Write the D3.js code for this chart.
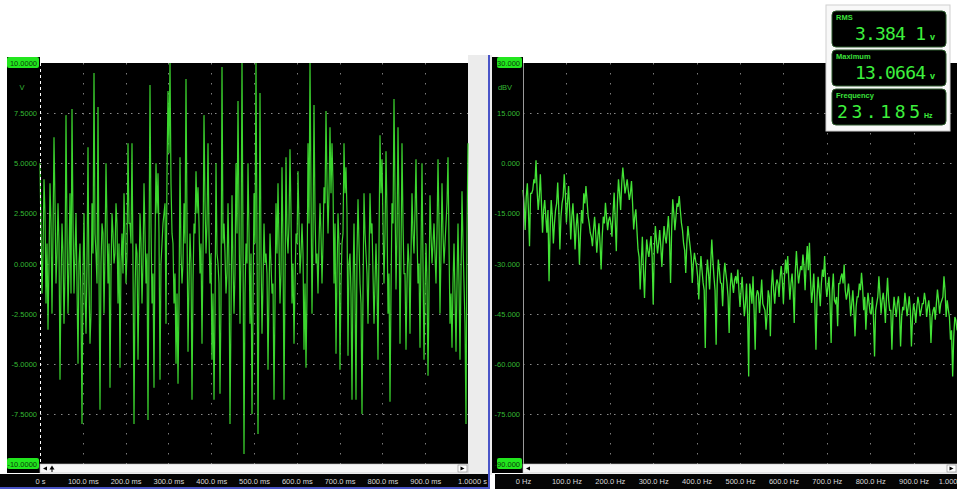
<!DOCTYPE html>
<html>
<head>
<meta charset="utf-8">
<script src="https://cdn.jsdelivr.net/npm/d3@7"></script>
<style>
  body { margin: 0; background: #fff; }
  svg { display: block; font-family: "Liberation Sans", Arial, sans-serif; }
</style>
</head>
<body>
<svg id="chart" width="957" height="489"></svg>
<script>
// time domain trace (volts), evenly spaced over 0..1 s
var timeValues = [
  5.0,1.5, -1.5,0.5, 4.2,2.5, -2.0,1.0, -3.3,0.0, 4.0,2.0, -2.5,1.5, 6.3,3.0, -1.0,0.5, 3.0,1.0,
  -5.8,-1.0, 2.0,0.5, -3.0,-0.5, 7.4,1.5, -2.5,0.0, 3.5,-1.5, 7.7,2.0, -1.5,0.5, 2.5,-1.0, -5.0,0.0,
  1.0,-2.0, -8.0,-0.5, 2.5,-1.5, -3.5,0.0, 5.8,-1.0, -4.0,-2.5, 3.0,0.5, 9.5,1.5, 0.5,-1.0, 7.8,-0.5,
  -7.3,0.0, 2.0,1.5, -2.5,0.5, 5.0,2.0, -1.0,1.0, -6.2,-0.5, 2.5,1.5, 0.0,0.5, 3.0,2.0, -2.0,1.0,
  -5.2,0.0, 1.5,-0.5, 3.5,1.5, -1.0,0.5, 6.0,2.0, 2.0,1.0, 6.0,0.0, -8.0,-1.5, 1.0,0.5, -4.8,-1.0,
  2.5,1.0, -2.0,0.0, 4.0,1.5, -1.0,0.5, -7.8,0.5, 8.9,2.0, -2.0,-0.5, -6.2,1.0, 5.0,2.5, 4.5,1.5,
  -5.8,0.0, 1.0,2.0, 2.5,3.0, -3.0,4.5, 8.6,5.5, 10.0,4.0, 1.5,1.0, -2.0,-0.5, -5.0,-1.5, -6.0,-2.0,
  5.3,0.5, -1.0,0.0, 3.0,1.0, 9.2,2.0, -4.4,-1.0, 1.5,0.0, -6.8,-1.0, 2.0,1.5, 4.6,2.5, 3.8,2.0,
  -0.5,1.0, -4.0,0.5, 7.4,3.0, 0.5,2.0, 6.0,1.5, -1.0,0.5, -4.8,-1.5, -6.8,-2.5, 5.0,0.5, 0.0,-1.0,
  -6.5,-2.0, 9.8,1.0, 2.0,0.5, -1.5,-0.5, 3.0,0.0, -8.0,-2.5, 3.4,0.0, -2.5,-0.5, 5.0,1.5, 8.1,2.5,
  -3.0,0.5, 10.0,1.0, -9.5,-1.5, 1.0,0.0, 5.0,1.5, -3.0,0.5, -7.5,-2.0, 3.5,1.0, 10.0,1.0, -8.5,-1.0,
  8.5,0.5, -3.5,-1.0, 2.0,0.0, 0.5,-0.5, -5.3,-1.5, 1.5,0.0, -1.5,-1.0, -6.8,-2.0, 3.0,0.5, 4.0,1.0,
  -2.0,-0.5, 4.8,1.0, -6.8,-1.0, 5.3,1.5, 0.5,2.0, 5.7,2.5, -2.0,0.0, -4.0,-1.0, 1.5,1.0, 4.6,2.0,
  -0.5,0.5, 2.0,0.5, -4.3,-1.0, -5.2,-1.5, 6.0,2.0, 10.0,3.5, -2.5,1.5, 7.9,2.5, 0.0,0.5, -1.5,1.0,
  3.0,1.5, -1.0,1.0, 3.8,3.0, 7.6,4.0, 1.5,3.5, 6.8,3.5, 6.0,4.0, -1.0,2.0, -4.5,-0.5, 2.5,1.0,
  -5.3,-1.0, 1.0,1.5, 6.0,3.5, 4.8,2.5, -4.6,0.0, 0.5,-1.5, -6.8,-1.0, 2.0,-1.5, -6.8,0.5, 3.2,1.0,
  -1.0,-2.0, -7.5,-1.5, 3.5,1.5, 0.5,-0.5, -3.0,0.0, 3.5,1.5, 2.0,-0.5, -3.0,-1.0, 1.0,-1.0, -4.8,1.0,
  6.4,3.5, 5.2,2.0, -1.0,1.5, 5.6,2.5, -2.5,-0.5, -6.9,-1.5, 3.0,2.0, 8.2,3.5, -1.3,1.5, 6.8,2.5,
  -4.0,0.5, 6.0,2.0, -0.5,-0.5, -4.3,-1.0, 1.0,0.0, -3.5,0.5, 3.5,1.5, 0.5,2.5, 5.2,1.5, -1.0,0.0,
  -4.2,0.5, 5.0,0.0, -4.8,-1.5, 1.0,-1.0, -5.6,-1.5, 3.4,1.5, 0.0,1.0, 2.0,0.5, -1.0,1.5, 5.2,2.0,
  -2.5,0.5, 4.0,1.5, 0.0,1.0, 2.0,3.0, 5.3,1.0, -3.0,-1.5, -4.2,-1.0, 1.0,-1.5, -4.4,-1.0, 2.0,-1.0,
  -4.8,-0.5, 3.6,1.0, -1.0,-3.0, -8.0,1.5, 6.0
];
// spectrum (dBV), evenly spaced over 0..1000 Hz
var spectrumValues = [
  -8,-12, -20,-10, -6,-14, -24.8,-9, -9,-8, -4.8,-6, 0.9,-8, -14,-10, -3.3,-12, -20.8,-14,
  -11,-16, -20.8,-14, -35.3,-20, -11,-16, -24,-18, -14,-12, -5.8,-14, -25.8,-16, -12,-10, -3.3,-9,
  -17.8,-12, -6.8,-14, -22.8,-16, -12,-18, -25.8,-19, -15,-20, -30.3,-21, -14,-18, -9,-12, -6.8,-11,
  -15.8,-18, -20.8,-22, -24.8,-20, -16,-21, -26.8,-22, -18,-24, -31.8,-22, -16,-18, -11.8,-16, -20,-17,
  -16,-18, -22,-15, -8.8,-17, -26.3,-12, -4.8,-9, -14,-6, -1.3,-5, -9,-7, -4.8,-8, -11,-9,
  -5.3,-12, -19.8,-16, -13.8,-20, -25.8,-28, -37.8,-30, -22,-32, -40.3,-30, -22.8,-26, -28,-25, -21.8,-28,
  -42.3,-26, -18.8,-23, -27,-24, -20,-25, -31,-24, -18.8,-22, -24,-20, -15.8,-22, -35.8,-20, -10.8,-15,
  -20,-16, -12,-13, -9.8,-14, -17.8,-20, -24,-26, -32.8,-24, -18.8,-22, -24.8,-28, -35.8,-30, -26.8,-29,
  -30.8,-34, -40.8,-33, -27.8,-32, -35.8,-38, -55.3,-34, -28.8,-33, -37.8,-30, -22.8,-29, -34,-38, -54.3,-36,
  -28.8,-32, -35.8,-36, -42.8,-34, -29.8,-33, -35.8,-40, -50.8,-37, -32.8,-36, -38.8,-35, -33.8,-36,
  -31.8,-38, -43,-38, -34,-40, -45.8,-42, -36,-45, -63.8,-36, -38,-42, -33.8,-44, -55.8,-40, -38,-39,
  -44.8,-40, -34.8,-42, -43,-44, -49.8,-45, -38,-40, -51.8,-37, -31.8,-38, -42,-37, -34.8,-36, -40,-34, -30.8,-35,
  -42,-34, -28.8,-33, -27.8,-35, -40.8,-36, -33,-38, -47.8,-32, -26.3,-32, -36,-33, -30.8,-32, -27.3,-31,
  -38,-30, -24.8,-32, -23.8,-35, -41.8,-38, -33,-42,
  -55.8,-40, -34,-38, -42.8,-36, -31.8,-34, -27.8,-36, -40,-37, -34,-42, -53.8,-38, -33,-41, -41.8,-40,
  -48.8,-36, -36,-34, -33,-36, -30.3,-38, -40.8,-39,
  -36,-40, -45.8,-42, -38,-44, -51.8,-43, -40,-40, -36,-38, -32.8,-37, -44,-40, -49.8,-43, -38.8,-42,
  -44.8,-45, -40,-46, -57.8,-44, -42,-40, -33.8,-39, -45,-41, -38.8,-42, -47.8,-40, -34.3,-41, -44,-44,
  -55.8,-45, -40,-43, -46,-42, -39.8,-44, -54.8,-46, -43,-44, -38.8,-42, -45.8,-43, -39.8,-44, -54.8,-46,
  -42,-44, -47.8,-43, -40,-42, -45.8,-44, -42,-42, -38.8,-41, -46,-43, -41,-45, -53.8,-46, -44,-43,
  -46.8,-42, -37.8,-41, -45,-42, -41,-40, -33.8,-38, -46,-41, -43.8,-46, -52.8,-50, -63.8,-52, -46,-47,
  -50
];

var voltTicks = [10, 7.5, 5, 2.5, 0, -2.5, -5, -7.5, -10];
var voltLabels = ["10.0000", "7.5000", "5.0000", "2.5000", "0.0000", "-2.5000", "-5.0000", "-7.5000", "-10.0000"];
var timeTicks = [0, 100, 200, 300, 400, 500, 600, 700, 800, 900, 1000];
var timeLabels = ["0 s", "100.0 ms", "200.0 ms", "300.0 ms", "400.0 ms", "500.0 ms", "600.0 ms", "700.0 ms", "800.0 ms", "900.0 ms", "1.0000 s"];
var dbTicks = [30, 15, 0, -15, -30, -45, -60, -75, -90];
var dbLabels = ["30.000", "15.000", "0.000", "-15.000", "-30.000", "-45.000", "-60.000", "-75.000", "-90.000"];
var freqTicks = [0, 100, 200, 300, 400, 500, 600, 700, 800, 900, 1000];
var freqLabels = ["0 Hz", "100.0 Hz", "200.0 Hz", "300.0 Hz", "400.0 Hz", "500.0 Hz", "600.0 Hz", "700.0 Hz", "800.0 Hz", "900.0 Hz", "1.000"];

var meterNames = ["RMS", "Maximum", "Frequency"];
var meterValues = ["3.384 1", "13.0664", "23.185"];
var meterUnits = ["v", "v", "Hz"];

var svg = d3.select('#chart');

var plotTop = 63, plotBottom = 464;

// window background between the panels
svg.append('rect').attr('x', 468).attr('y', 55).attr('width', 24).attr('height', 420).attr('fill', '#ececec');

function panel(o) {
  var g = svg.append('g');

  var x = d3.scaleLinear().domain(o.xDomain).range([o.left, o.right]);
  var y = d3.scaleLinear().domain(o.yDomain).range([plotBottom, plotTop]);

  // label column
  g.append('rect').attr('x', o.colLeft).attr('y', 57).attr('width', o.left - o.colLeft).attr('height', 416).attr('fill', '#000');
  // plot
  g.append('rect').attr('x', o.left).attr('y', plotTop).attr('width', o.right - o.left).attr('height', plotBottom - plotTop).attr('fill', '#000');

  // grid
  g.selectAll('.hg').data(o.yTicks.slice(1, -1)).enter().append('line')
      .attr('x1', o.left).attr('x2', o.right)
      .attr('y1', function(d) { return Math.round(y(d)) + 0.5; }).attr('y2', function(d) { return Math.round(y(d)) + 0.5; })
      .attr('stroke', '#8a8a8a').attr('stroke-width', 1).attr('stroke-dasharray', '1.5,5.5');
  g.selectAll('.vg').data(o.xTicks.slice(1, -1)).enter().append('line')
      .attr('y1', plotTop).attr('y2', plotBottom)
      .attr('x1', function(d) { return Math.round(x(d)) + 0.5; }).attr('x2', function(d) { return Math.round(x(d)) + 0.5; })
      .attr('stroke', '#7a7a7a').attr('stroke-width', 1).attr('stroke-dasharray', '1.5,8.5');

  // trace
  var step = (o.xDomain[1] - o.xDomain[0]) / (o.values.length - 1);
  var line = d3.line()
      .x(function(d, i) { return x(o.xDomain[0] + i * step); })
      .y(function(d) { return y(d); });
  g.append('path').datum(o.values)
      .attr('d', line)
      .attr('fill', 'none')
      .attr('stroke', o.traceColor)
      .attr('stroke-width', o.traceWidth)
      .attr('stroke-linejoin', 'miter');

  // y labels
  var yl = g.append('g');
  o.yTicks.forEach(function(t, i) {
    var end = (i === 0 || i === o.yTicks.length - 1);
    if (end) {
      yl.append('rect').attr('x', o.colLeft + o.boxInset).attr('y', y(t) - 6)
        .attr('width', o.left - o.colLeft - o.boxInset - 1).attr('height', 11)
        .attr('rx', 2).attr('fill', '#22e61e');
    }
    yl.append('text')
      .attr('x', o.left - 3).attr('y', y(t) + 3)
      .attr('text-anchor', 'end')
      .attr('font-size', 7.5)
      .attr('fill', end ? '#0b3d0b' : '#34b834')
      .text(o.yLabels[i]);
  });
  yl.append('text').attr('x', o.unitX).attr('y', 90).attr('font-size', 7.5)
    .attr('text-anchor', 'middle').attr('fill', '#34b834').text(o.unit);

  // scrollbar
  g.append('rect').attr('x', o.left).attr('y', plotBottom).attr('width', o.right - o.left).attr('height', 9)
    .attr('fill', '#f6f6f6').attr('stroke', '#bdbdbd').attr('stroke-width', 0.6);
  g.append('rect').attr('x', o.right - 10).attr('y', plotBottom + 1).attr('width', 9).attr('height', 7)
    .attr('fill', '#fff').attr('stroke', '#888').attr('stroke-width', 0.6);
  g.append('path').attr('d', 'M' + (o.right - 7.5) + ',' + (plotBottom + 2.5) + 'l4,2l-4,2z').attr('fill', '#000');
  g.append('path').attr('d', 'M' + (o.left + 7) + ',' + (plotBottom + 2.5) + 'l-4,2l4,2z').attr('fill', '#000');

  // x axis strip
  g.append('rect').attr('x', o.stripLeft).attr('y', 474).attr('width', o.stripRight - o.stripLeft).attr('height', 15).attr('fill', '#050505');
  var xAxis = d3.axisBottom(x).tickValues(o.xTicks).tickSize(0)
      .tickFormat(function(d, i) { return o.xLabels[i]; });
  var ax = g.append('g').attr('transform', 'translate(0,476)').call(xAxis);
  ax.select('.domain').remove();
  ax.selectAll('text').attr('font-size', 7.5).attr('fill', '#d8d8d8').attr('font-family', '"Liberation Sans", Arial, sans-serif');
  ax.selectAll('.tick').filter(function(d, i) { return i === o.xTicks.length - 1; })
    .select('text').attr('dx', o.lastShift).attr('text-anchor', o.lastAnchor);

  return { x: x, y: y, g: g };
}

var left = panel({
  left: 40, right: 468, colLeft: 7, boxInset: 0, stripLeft: 0, stripRight: 488,
  xDomain: [0, 1000], yDomain: [-10, 10],
  xTicks: timeTicks, xLabels: timeLabels, yTicks: voltTicks, yLabels: voltLabels,
  values: timeValues, unit: 'V', unitX: 22, lastShift: 4, lastAnchor: 'middle',
  traceWidth: 1.2, traceColor: '#3bd42e'
});

// trigger marker on the left panel
left.g.append('line').attr('x1', 40.5).attr('x2', 40.5).attr('y1', plotTop).attr('y2', plotBottom)
  .attr('stroke', '#fff').attr('stroke-width', 1).attr('stroke-dasharray', '3,3');
left.g.append('path').attr('d', 'M52,465.5l-2.5,4h5z').attr('fill', '#000');
left.g.append('line').attr('x1', 52).attr('x2', 52).attr('y1', 468).attr('y2', 472).attr('stroke', '#000');

var right = panel({
  left: 523, right: 957, colLeft: 492, boxInset: 5, stripLeft: 495, stripRight: 957,
  xDomain: [0, 1000], yDomain: [-90, 30],
  xTicks: freqTicks, xLabels: freqLabels, yTicks: dbTicks, yLabels: dbLabels,
  values: spectrumValues, unit: 'dBV', unitX: 505, lastShift: 0, lastAnchor: 'end',
  traceWidth: 1.3, traceColor: '#43e336'
});
right.g.append('line').attr('x1', 523.5).attr('x2', 523.5).attr('y1', plotTop).attr('y2', plotBottom)
  .attr('stroke', '#9a9a9a').attr('stroke-width', 1);

// active panel frame
svg.append('rect').attr('x', 488).attr('y', 55).attr('width', 2).attr('height', 434).attr('fill', '#4a55c8');
svg.append('rect').attr('x', 0).attr('y', 487).attr('width', 490).attr('height', 2).attr('fill', '#4a55c8');

// meter box
var meter = svg.append('g');
meter.append('rect').attr('x', 826).attr('y', 5).attr('width', 124).attr('height', 126)
  .attr('fill', '#f8f8f8').attr('stroke', '#cfcfcf');
meterNames.forEach(function(name, i) {
  var y0 = 11 + i * 39;
  var row = meter.append('g');
  row.append('rect').attr('x', 832).attr('y', y0).attr('width', 114).attr('height', 36)
    .attr('rx', 4).attr('fill', '#000').attr('stroke', '#2c5a2c').attr('stroke-width', 1);
  row.append('text').attr('x', 836).attr('y', y0 + 9).attr('font-size', 7.5).attr('font-weight', 'bold')
    .attr('fill', '#3be03b').text(name);
  var unitSmall = meterUnits[i] === 'Hz';
  row.append('text').attr('x', unitSmall ? 921 : 927).attr('y', y0 + 29)
    .attr('text-anchor', 'end').attr('font-size', 18).attr('letter-spacing', 1)
    .attr('font-family', '"DejaVu Sans Mono", monospace').attr('textLength', unitSmall ? 84 : 72)
    .attr('fill', '#3df03d').text(meterValues[i]);
  row.append('text').attr('x', unitSmall ? 924 : 930).attr('y', y0 + 29)
    .attr('font-size', unitSmall ? 7 : 9).attr('font-weight', 'bold')
    .attr('fill', '#3df03d').text(meterUnits[i]);
});
</script>
</body>
</html>
